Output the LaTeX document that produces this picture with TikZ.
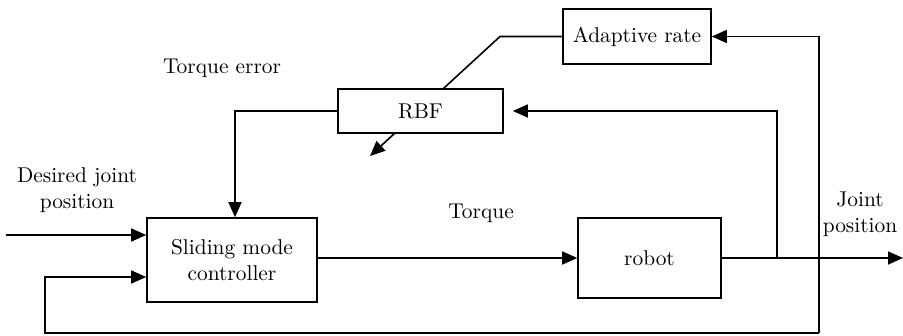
\documentclass[tikz,border=0pt]{standalone}
\usetikzlibrary{arrows.meta}
\begin{document}
\begin{tikzpicture}[x=0.5pt,y=-0.5pt,
  txt/.style={font=\rmfamily\fontsize{10.7}{13}\selectfont},
  blk/.style={txt,draw,line width=0.8pt,fill=white,inner sep=0pt,align=center},
  lbl/.style={txt,align=center,inner sep=0pt},
  conn/.style={line width=0.8pt},
  arr/.style={conn,-{Triangle[length=7.5pt,width=6.5pt]}}]
\useasboundingbox (0,0) rectangle (903,336);
% blocks
\node[blk,minimum width=74pt,minimum height=27.5pt] (ar) at (637,36.5) {Adaptive rate};
\node[blk,minimum width=85pt,minimum height=42pt] (smc) at (232,260) {Sliding mode\\controller};
\node[blk,minimum width=71.5pt,minimum height=40pt] (robot) at (649.5,258) {robot};
% coordinates
\coordinate (bend) at (500,36.5);
\coordinate (tip) at (370,156);
\coordinate (in) at (6,235);
\coordinate (fbin) at (45,277);
\coordinate (fbL) at (45,333);
\coordinate (fbR) at (819,333);
\coordinate (j1) at (777,258);
\coordinate (out) at (903,258);
\coordinate (c1) at (235,111);
% adaptation arrow through RBF
\draw[arr] (ar.west) -- (bend) -- (tip);
\node[blk,minimum width=82.5pt,minimum height=22pt] (rbf) at (420.5,111) {RBF};
% connectors
\draw[arr] (rbf.west) -- (c1) -- (c1 |- smc.north);
\draw[arr] (in) -- (smc.west |- in);
\draw[arr] (smc.east |- robot.east) -- (robot.west);
\draw[arr] (robot.east) -- (out);
\draw[arr,shorten >=4.5pt] (j1) -- (j1 |- rbf.east) -- (rbf.east);
\draw[arr] (fbR) -- (fbR |- ar.east) -- (ar.east);
\draw[arr] (fbR) -- (fbL) -- (fbin) -- (smc.west |- fbin);
% labels
\node[lbl] (te) at (222,68) {Torque error};
\node[lbl] (dj) at (77,190) {Desired joint\\position};
\node[lbl] (tq) at (481,213) {Torque};
\node[lbl] (jp) at (860,214) {Joint\\position};
\end{tikzpicture}
\end{document}
